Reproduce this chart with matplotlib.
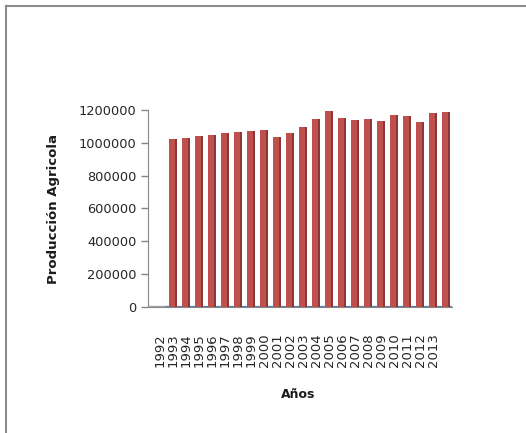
import numpy as np
import matplotlib.pyplot as plt
from matplotlib.lines import Line2D
from matplotlib.transforms import ScaledTranslation

# categorias (eje x) y valores
anios = ['1992', '1993', '1994', '1995', '1996', '1997', '1998', '1999', '2000', '2001', '2002',
         '2003', '2004', '2005', '2006', '2007', '2008', '2009', '2010', '2011', '2012', '2013']

produccion = [1023000, 1031000, 1041000, 1049000, 1058000, 1064000, 1072000, 1080000,
              1035000, 1061000, 1094000, 1143000, 1196000, 1149000, 1139000, 1143000,
              1133000, 1169000, 1163000, 1129000, 1180000, 1190000]

yticks = [0, 200000, 400000, 600000, 800000, 1000000, 1200000]

W, H = 526, 433
fig = plt.figure(figsize=(W / 100, H / 100), dpi=100)
ax = fig.add_axes([147.7 / W, 126.3 / H, 304.3 / W, 196.7 / H])

# barras "3D" estilo Excel: cara frontal + lateral oscura
pos = np.arange(len(produccion)) + 1
ax.bar(pos - 0.06, produccion, width=0.46, color='#C0504D', zorder=3)
ax.bar(pos + 0.23, produccion, width=0.12, color='#8A3836', zorder=3)

# piso del grafico
ax.hlines(0, -0.95, 0.4, color='#A6A6A6', lw=2.5, zorder=4)
ax.hlines(0, 0.4, 22.46, color='#4F81BD', lw=1.6, zorder=2)

ax.set_xlim(-0.95, 22.46)
ax.set_ylim(0, 1200000)

ax.set_yticks(yticks)
ax.set_yticklabels([str(v) for v in yticks], fontsize=9.3, color='#262626')
ax.set_xticks(np.arange(len(anios)))
ax.set_xticklabels(anios, rotation=90, fontsize=9.5, color='#262626')
for lbl in ax.get_xticklabels():
    lbl.set_transform(lbl.get_transform() + ScaledTranslation(-0.04, 0, fig.dpi_scale_trans))

ax.tick_params(axis='x', length=0, pad=19)
ax.tick_params(axis='y', length=5, width=1, color='#868686', pad=3)

for s in ['top', 'right']:
    ax.spines[s].set_visible(False)
ax.spines['left'].set_color('#868686')
ax.spines['bottom'].set_color('#868686')

fig.text(54 / W, 1 - 209 / H, 'Producción Agricola', rotation=90, ha='center', va='center',
         fontsize=9.5, fontweight='bold', color='#1a1a1a')
fig.text(298 / W, 1 - 395 / H, 'Años', ha='center', va='center',
         fontsize=9, fontweight='bold', color='#1a1a1a')

# marco exterior
fig.add_artist(Line2D([6 / W, 1], [1 - 5.5 / H, 1 - 5.5 / H], transform=fig.transFigure,
                      color='#8C8C8C', lw=1.5))
fig.add_artist(Line2D([6 / W, 6 / W], [0, 1 - 5.5 / H], transform=fig.transFigure,
                      color='#8C8C8C', lw=1.5))

fig.savefig('out.png', dpi=100)
